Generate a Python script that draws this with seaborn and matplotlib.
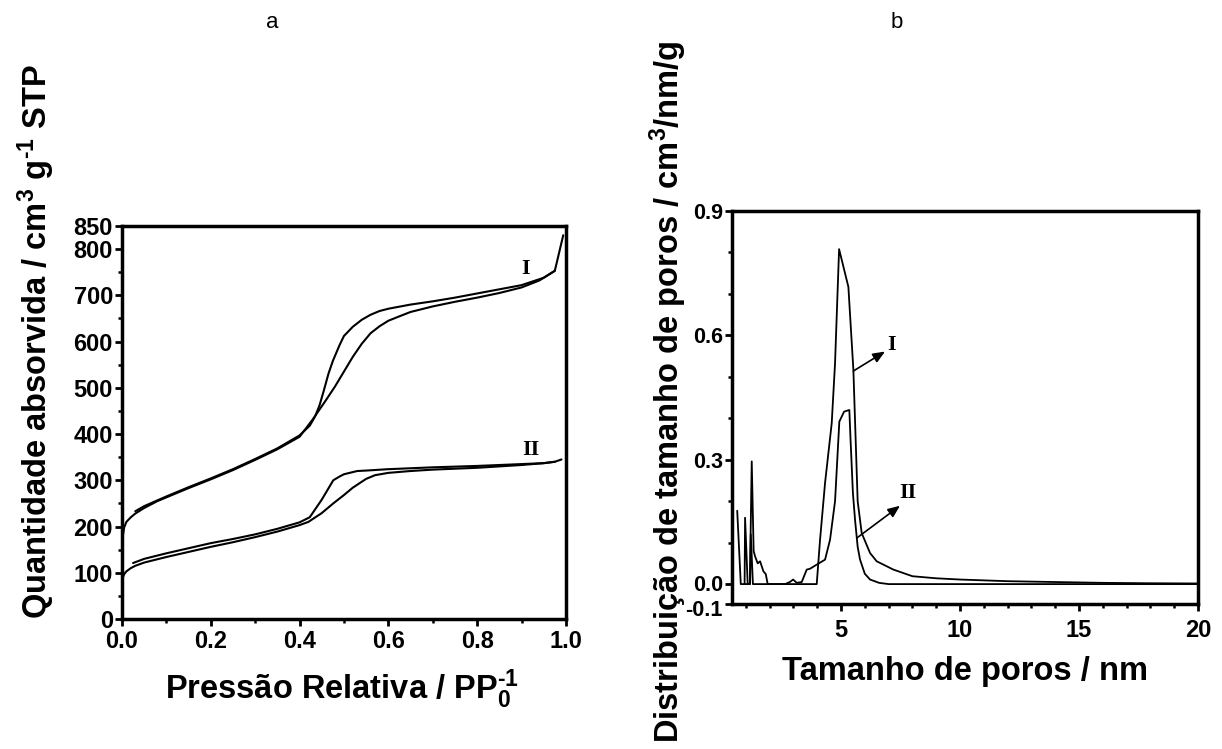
import matplotlib
matplotlib.use("Agg")
import matplotlib.pyplot as plt
import matplotlib.transforms as mtransforms
import seaborn as sns
import numpy as np
from matplotlib.ticker import MultipleLocator, FixedLocator

# ---------------- data: panel a (isotherms) ----------------
I_ads_x = [0.0, 0.002, 0.005, 0.01, 0.02, 0.03, 0.05, 0.08, 0.1, 0.15, 0.2, 0.25, 0.3, 0.35, 0.4,
           0.43, 0.44, 0.46, 0.48, 0.5, 0.52, 0.54, 0.56, 0.58, 0.6, 0.626, 0.65, 0.7, 0.75, 0.8,
           0.85, 0.9, 0.94, 0.975, 0.994]
I_ads_y = [150, 180, 198, 210, 220, 228, 240, 255, 263, 283, 302, 322, 344, 367, 394,
           432, 446, 474, 503, 535, 567, 595, 618, 633, 645, 655, 664, 676, 686, 695,
           705, 717, 732, 753, 830]
I_des_x = [0.975, 0.95, 0.9, 0.85, 0.8, 0.75, 0.7, 0.65, 0.6, 0.58, 0.56, 0.54, 0.52, 0.5,
           0.49, 0.475, 0.465, 0.455, 0.445, 0.435, 0.423, 0.4, 0.35, 0.3, 0.25, 0.2, 0.15,
           0.1, 0.05, 0.03]
I_des_y = [753, 738, 722, 713, 704, 695, 687, 680, 671, 666, 658, 647, 632, 612,
           592, 558, 530, 495, 462, 438, 418, 397, 369, 346, 324, 304, 285,
           265, 244, 233]

II_ads_x = [0.0, 0.002, 0.005, 0.01, 0.02, 0.03, 0.05, 0.1, 0.15, 0.2, 0.25, 0.3, 0.35, 0.4,
            0.42, 0.45, 0.476, 0.5, 0.52, 0.55, 0.57, 0.6, 0.65, 0.7, 0.8, 0.9, 0.95, 0.975, 0.99]
II_ads_y = [81, 90, 97, 103, 110, 115, 122, 134, 145, 156, 166, 177, 189, 203,
            210, 229, 250, 268, 284, 303, 311, 316, 320, 323, 327, 333, 337, 340, 345]
II_des_x = [0.975, 0.95, 0.9, 0.8, 0.7, 0.626, 0.6, 0.55, 0.53, 0.5, 0.49, 0.476, 0.45, 0.423,
            0.4, 0.35, 0.3, 0.25, 0.2, 0.15, 0.1, 0.05, 0.025]
II_des_y = [340, 337, 335, 331, 328, 325, 324, 321, 320, 313, 308, 300, 258, 220,
            209, 195, 183, 173, 164, 153, 142, 130, 121]

# ---------------- data: panel b (pore size distribution) ----------------
psd_I_x = [0.64, 0.79, 1.18, 1.21, 1.30, 3.98, 4.12, 4.33, 4.61, 4.75, 4.92, 5.31, 5.52, 5.63,
           5.7, 5.87, 6.22, 6.5, 7.2, 8.0, 9.0, 10, 12, 14, 16, 18, 20]
psd_I_y = [0.177, 0.0, 0.0, 0.12, 0.0, 0.0, 0.107, 0.244, 0.388, 0.533, 0.808, 0.717, 0.517, 0.324,
           0.2, 0.123, 0.075, 0.055, 0.035, 0.019, 0.014, 0.011, 0.007, 0.005, 0.003, 0.002, 0.0015]
psd_II_x = [0.95, 0.97, 1.08, 1.17, 1.25, 1.33, 1.39, 1.5, 1.6, 1.74, 1.84, 1.92, 2.65, 2.85,
            2.99, 3.14, 3.35, 3.56, 3.7, 3.98, 4.33, 4.54, 4.75, 4.93, 5.13, 5.35, 5.4, 5.5,
            5.59, 5.7, 5.8, 6.0, 6.22, 6.6, 7.0, 20]
psd_II_y = [0.0, 0.16, 0.0, 0.0, 0.296, 0.08, 0.067, 0.05, 0.055, 0.031, 0.024, 0.0, 0.0, 0.005,
            0.011, 0.003, 0.005, 0.035, 0.037, 0.047, 0.059, 0.107, 0.2, 0.392, 0.416, 0.42, 0.35, 0.22,
            0.155, 0.09, 0.059, 0.025, 0.011, 0.003, 0.0, 0.0]

left_yticks = [0, 100, 200, 300, 400, 500, 600, 700, 800, 850]
left_xticks = [0.0, 0.2, 0.4, 0.6, 0.8, 1.0]
right_yticks = [-0.048, 0.0, 0.3, 0.6, 0.9]
right_yticklabels = ["-0.1", "0.0", "0.3", "0.6", "0.9"]
right_xticks = [5, 10, 15, 20]

# ---------------- style ----------------
sns.set_theme(style="ticks")
plt.rcParams["font.family"] = ["Liberation Sans", "DejaVu Sans"]
plt.rcParams["font.weight"] = "bold"
plt.rcParams["text.color"] = "black"
plt.rcParams["axes.labelcolor"] = "black"
plt.rcParams["xtick.color"] = "black"
plt.rcParams["ytick.color"] = "black"
plt.rcParams["xtick.labelcolor"] = "black"
plt.rcParams["ytick.labelcolor"] = "black"
plt.rcParams["mathtext.fontset"] = "custom"
plt.rcParams["mathtext.rm"] = "Liberation Sans:bold"
plt.rcParams["mathtext.bf"] = "Liberation Sans:bold"
plt.rcParams["mathtext.it"] = "Liberation Sans:bold"
plt.rcParams["mathtext.default"] = "bf"

fig = plt.figure(figsize=(12.22, 7.49), dpi=100)
fig.patch.set_facecolor("white")
axL = fig.add_axes([0.0998, 0.1736, 0.3633, 0.5247])
axR = fig.add_axes([0.5990, 0.1936, 0.3814, 0.5247])

lw = 1.5
for xs, ys in [(I_ads_x, I_ads_y), (I_des_x, I_des_y), (II_ads_x, II_ads_y), (II_des_x, II_des_y)]:
    sns.lineplot(x=xs, y=ys, ax=axL, sort=False, estimator=None, color="black", lw=lw)
for xs, ys in [(psd_I_x, psd_I_y), (psd_II_x, psd_II_y)]:
    sns.lineplot(x=xs, y=ys, ax=axR, sort=False, estimator=None, color="black", lw=1.3)

tick_fs = 17
label_fs = 23.5
for ax in (axL, axR):
    ax.set_facecolor("white")
    for s in ax.spines.values():
        s.set_visible(True)
        s.set_linewidth(2.5)
        s.set_color("black")
    ax.tick_params(which="major", direction="out", length=5, width=2, color="black",
                   labelcolor="black", labelsize=tick_fs, top=False, right=False)
    ax.tick_params(which="minor", direction="out", length=3, width=1.8, color="black",
                   top=False, right=False)
    ax.tick_params(axis="y", which="major", pad=1.5)
    ax.tick_params(axis="x", which="major", pad=3)

# left axes
axL.set_xlim(0, 1.0)
axL.set_ylim(0, 850)
axL.xaxis.set_major_locator(FixedLocator(left_xticks))
axL.xaxis.set_minor_locator(MultipleLocator(0.1))
axL.yaxis.set_major_locator(FixedLocator(left_yticks))
axL.yaxis.set_minor_locator(MultipleLocator(50))
axL.set_xticklabels([f"{v:.1f}" for v in left_xticks], fontweight="bold", fontsize=tick_fs, color="black")
axL.set_yticklabels([str(v) for v in left_yticks], fontweight="bold", fontsize=tick_fs, color="black")
axL.set_xlabel(r"Pressão Relativa / PP$_0^{\text{-}1}$", fontsize=label_fs, fontweight="bold")
axL.set_ylabel(r"Quantidade absorvida / cm$^3$ g$^{\text{-}1}$ STP", fontsize=label_fs, fontweight="bold")
axL.xaxis.set_label_coords(0.495, -0.178)
axL.xaxis.label.set_va("center")
axL.yaxis.set_label_coords(-0.192, 0.705)
axL.yaxis.label.set_va("center")
axL.text(0.91, 758, "I", family="Liberation Serif", fontweight="bold", fontsize=16,
         ha="center", va="center")
axL.text(0.92, 365, "II", family="Liberation Serif", fontweight="bold", fontsize=16,
         ha="center", va="center")

# right axes
axR.set_xlim(0.42, 20)
axR.set_ylim(-0.048, 0.9)
axR.xaxis.set_major_locator(FixedLocator(right_xticks))
axR.xaxis.set_minor_locator(MultipleLocator(1))
axR.yaxis.set_major_locator(FixedLocator(right_yticks))
axR.yaxis.set_minor_locator(FixedLocator([0.1, 0.2, 0.4, 0.5, 0.7, 0.8]))
axR.set_xticklabels([str(v) for v in right_xticks], fontweight="bold", fontsize=tick_fs, color="black")
axR.set_yticklabels(right_yticklabels, fontweight="bold", fontsize=15.5, color="black")
# nudge the two crowded bottom labels slightly apart
ylabs = axR.get_yticklabels()
ylabs[0].set_transform(ylabs[0].get_transform() +
                       mtransforms.ScaledTranslation(0, -3 / 72, fig.dpi_scale_trans))
ylabs[1].set_transform(ylabs[1].get_transform() +
                       mtransforms.ScaledTranslation(0, 1 / 72, fig.dpi_scale_trans))
axR.tick_params(axis="x", which="major", pad=6)
axR.set_xlabel("Tamanho de poros / nm", fontsize=label_fs, fontweight="bold")
axR.set_ylabel(r"Distribuição de tamanho de poros / cm$^3$/nm/g", fontsize=label_fs, fontweight="bold")
axR.xaxis.set_label_coords(0.5, -0.173)
axR.xaxis.label.set_va("center")
axR.yaxis.set_label_coords(-0.136, 0.539)
axR.yaxis.label.set_va("center")

arrow = dict(arrowstyle="-|>,head_length=0.6,head_width=0.25", color="black", lw=1.2,
             shrinkA=0, shrinkB=0)
axR.annotate("", xy=(6.85, 0.561), xytext=(5.52, 0.514), arrowprops=arrow)
axR.text(7.13, 0.577, "I", family="Liberation Serif", fontweight="bold", fontsize=16,
         ha="center", va="center")
axR.annotate("", xy=(7.48, 0.189), xytext=(5.66, 0.111), arrowprops=arrow)
axR.text(7.83, 0.22, "II", family="Liberation Serif", fontweight="bold", fontsize=16,
         ha="center", va="center")

fig.text(0.2226, 0.9706, "a", fontsize=16, fontweight="normal", ha="center", va="center")
fig.text(0.734, 0.9706, "b", fontsize=16, fontweight="normal", ha="center", va="center")

fig.savefig("out.png", dpi=100, facecolor="white")
